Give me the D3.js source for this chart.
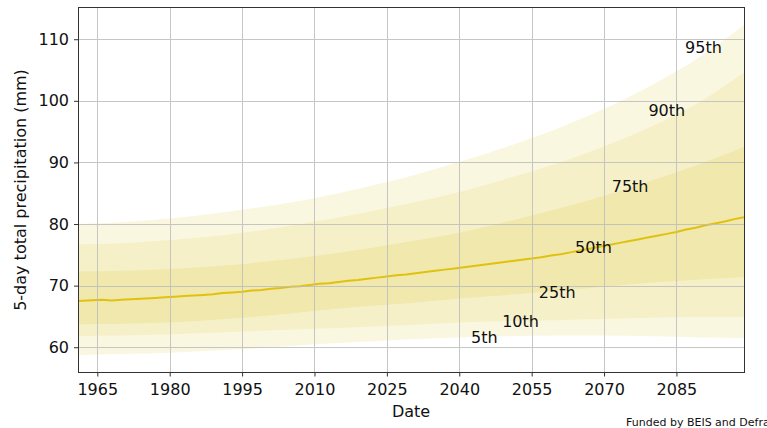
<!DOCTYPE html>
<html>
<head>
<meta charset="utf-8">
<script src="https://cdn.jsdelivr.net/npm/d3@7"></script>
<style>
  html, body { margin: 0; padding: 0; background: #fff; }
  svg { display: block; font-family: "DejaVu Sans", sans-serif; }
</style>
</head>
<body>
<svg id="chart" width="767" height="428"></svg>
<script>
// Percentile envelopes of 5-day total precipitation (mm)
const bandYears = [1961, 1970, 1980, 1990, 2000, 2010, 2020, 2030, 2040, 2050, 2060, 2070, 2080, 2090, 2099];
const p5  = [58.7, 58.9, 59.1, 59.5, 59.9, 60.5, 60.9, 61.3, 61.6, 61.8, 61.9, 61.9, 61.8, 61.6, 61.5];
const p10 = [61.8, 61.9, 62.1, 62.4, 62.7, 63.0, 63.3, 63.6, 64.0, 64.2, 64.4, 64.6, 64.8, 64.9, 64.9];
const p25 = [63.7, 63.8, 64.0, 64.5, 65.1, 65.9, 66.6, 67.2, 67.9, 68.5, 69.1, 69.8, 70.5, 71.0, 71.4];
const p75 = [72.3, 72.4, 72.7, 73.2, 73.9, 74.8, 75.9, 77.2, 78.6, 80.4, 82.4, 84.6, 87.1, 89.8, 92.5];
const p90 = [76.7, 76.9, 77.4, 78.1, 79.1, 80.4, 81.8, 83.4, 85.2, 87.4, 89.8, 92.6, 95.9, 99.9, 104.6];
const p95 = [80.0, 80.3, 80.9, 81.8, 82.9, 84.2, 85.9, 87.8, 90.1, 92.6, 95.4, 98.7, 102.6, 107.2, 112.3];

// Median (50th percentile)
const medianYears = [1961, 1963, 1966, 1968, 1970, 1972, 1975, 1977, 1979, 1981, 1983, 1985, 1987, 1989,
  1991, 1993, 1995, 1997, 1999, 2001, 2003, 2005, 2007, 2009, 2011, 2013, 2015, 2017, 2019, 2021, 2023,
  2025, 2027, 2029, 2031, 2033, 2035, 2037, 2039, 2041, 2043, 2045, 2047, 2049, 2051, 2053, 2055, 2057,
  2059, 2061, 2063, 2065, 2067, 2069, 2071, 2073, 2075, 2077, 2079, 2081, 2083, 2085, 2087, 2089, 2091,
  2093, 2095, 2097, 2099];
const p50 = [67.5, 67.6, 67.7, 67.6, 67.7, 67.8, 67.9, 68.0, 68.1, 68.2, 68.3, 68.4, 68.5, 68.6,
  68.8, 68.9, 69.0, 69.2, 69.3, 69.5, 69.6, 69.8, 69.9, 70.1, 70.3, 70.4, 70.6, 70.8, 70.9, 71.1, 71.3,
  71.5, 71.7, 71.8, 72.0, 72.2, 72.4, 72.6, 72.8, 73.0, 73.2, 73.4, 73.6, 73.8, 74.0, 74.2, 74.4, 74.6,
  74.9, 75.1, 75.4, 75.7, 76.0, 76.3, 76.6, 76.9, 77.2, 77.5, 77.8, 78.1, 78.4, 78.7, 79.1, 79.4, 79.8,
  80.1, 80.4, 80.8, 81.1];

// Axis ticks
const xTicks = [1965, 1980, 1995, 2010, 2025, 2040, 2055, 2070, 2085];
const yTicks = [60, 70, 80, 90, 100, 110];

// Percentile labels: anchor year and value (centre of each label)
const labelNames  = ["5th", "10th", "25th", "50th", "75th", "90th", "95th"];
const labelYears  = [2045.2, 2052.7, 2060.3, 2067.8, 2075.4, 2083.0, 2090.6];
const labelValues = [61.6, 64.1, 68.9, 76.2, 86.1, 98.5, 108.7];

(function draw() {
  const svg = d3.select("#chart");
  const mLeft = 78, mRight = 744, mTop = 7.5, mBottom = 372.5;

  const x = d3.scaleLinear().domain([1961, 2099]).range([mLeft, mRight]);
  const y = d3.scaleLinear().domain([55.9, 115.15]).range([mBottom, mTop]);

  svg.append("defs").append("clipPath").attr("id", "plot-clip")
    .append("rect").attr("x", mLeft).attr("y", mTop)
    .attr("width", mRight - mLeft).attr("height", mBottom - mTop);

  const plot = svg.append("g").attr("clip-path", "url(#plot-clip)");

  function bandRows(lo, hi) {
    return bandYears.map((yr, i) => ({ yr, lo: lo[i], hi: hi[i] }));
  }
  const area = d3.area()
    .x(d => x(d.yr)).y0(d => y(d.lo)).y1(d => y(d.hi))
    .curve(d3.curveMonotoneX);

  const bands = [
    { lo: p5, hi: p95, fill: "#faf7e0" },
    { lo: p10, hi: p90, fill: "#f6f0c9" },
    { lo: p25, hi: p75, fill: "#f1e8ad" }
  ];
  plot.selectAll("path.band").data(bands).join("path")
    .attr("class", "band")
    .attr("d", b => area(bandRows(b.lo, b.hi)))
    .attr("fill", b => b.fill);

  // Grid lines
  const grid = svg.append("g").attr("stroke", "#bdbdbd").attr("stroke-width", 1).attr("opacity", 0.85);
  grid.selectAll("line.gx").data(xTicks).join("line").attr("class", "gx")
    .attr("x1", d => Math.round(x(d)) + 0.5).attr("x2", d => Math.round(x(d)) + 0.5)
    .attr("y1", mTop).attr("y2", mBottom);
  grid.selectAll("line.gy").data(yTicks).join("line").attr("class", "gy")
    .attr("y1", d => Math.round(y(d)) + 0.5).attr("y2", d => Math.round(y(d)) + 0.5)
    .attr("x1", mLeft).attr("x2", mRight);

  // Median line
  const line = d3.line().x((d, i) => x(medianYears[i])).y(d => y(d));
  plot.append("path")
    .attr("d", line(p50))
    .attr("fill", "none")
    .attr("stroke", "#e0c20e")
    .attr("stroke-width", 2)
    .attr("stroke-linejoin", "round");

  // Frame
  svg.append("rect")
    .attr("x", mLeft + 0.5).attr("y", mTop)
    .attr("width", mRight - mLeft).attr("height", mBottom - mTop)
    .attr("fill", "none").attr("stroke", "#333").attr("stroke-width", 1);

  // Axes
  const xAxis = d3.axisBottom(x).tickValues(xTicks).tickFormat(d3.format("d"))
    .tickSizeInner(4).tickSizeOuter(0).tickPadding(7);
  const gx = svg.append("g").attr("transform", `translate(0,${mBottom})`).call(xAxis);
  gx.select(".domain").remove();
  gx.selectAll("line").attr("stroke", "#333");
  gx.selectAll("text").attr("font-size", 16).attr("fill", "#111")
    .attr("font-family", "DejaVu Sans, sans-serif");

  const yAxis = d3.axisLeft(y).tickValues(yTicks).tickFormat(d3.format("d"))
    .tickSizeInner(4).tickSizeOuter(0).tickPadding(5);
  const gy = svg.append("g").attr("transform", `translate(${mLeft},0)`).call(yAxis);
  gy.select(".domain").remove();
  gy.selectAll("line").attr("stroke", "#333");
  gy.selectAll("text").attr("font-size", 16).attr("fill", "#111")
    .attr("font-family", "DejaVu Sans, sans-serif");

  // Axis titles
  svg.append("text")
    .attr("x", (mLeft + mRight) / 2).attr("y", 417)
    .attr("text-anchor", "middle").attr("font-size", 16).attr("fill", "#111")
    .text("Date");
  svg.append("text")
    .attr("transform", `translate(26,${(mTop + mBottom) / 2}) rotate(-90)`)
    .attr("text-anchor", "middle").attr("font-size", 16).attr("fill", "#111")
    .text("5-day total precipitation (mm)");

  // Percentile labels
  svg.append("g").selectAll("text").data(labelNames).join("text")
    .attr("x", (d, i) => x(labelYears[i]))
    .attr("y", (d, i) => y(labelValues[i]))
    .attr("text-anchor", "middle")
    .attr("dominant-baseline", "central")
    .attr("font-size", 16).attr("fill", "#111")
    .text(d => d);

  // Funding note
  svg.append("text")
    .attr("x", 626).attr("y", 426)
    .attr("font-size", 11).attr("fill", "#111")
    .text("Funded by BEIS and Defra");
})();
</script>
</body>
</html>
